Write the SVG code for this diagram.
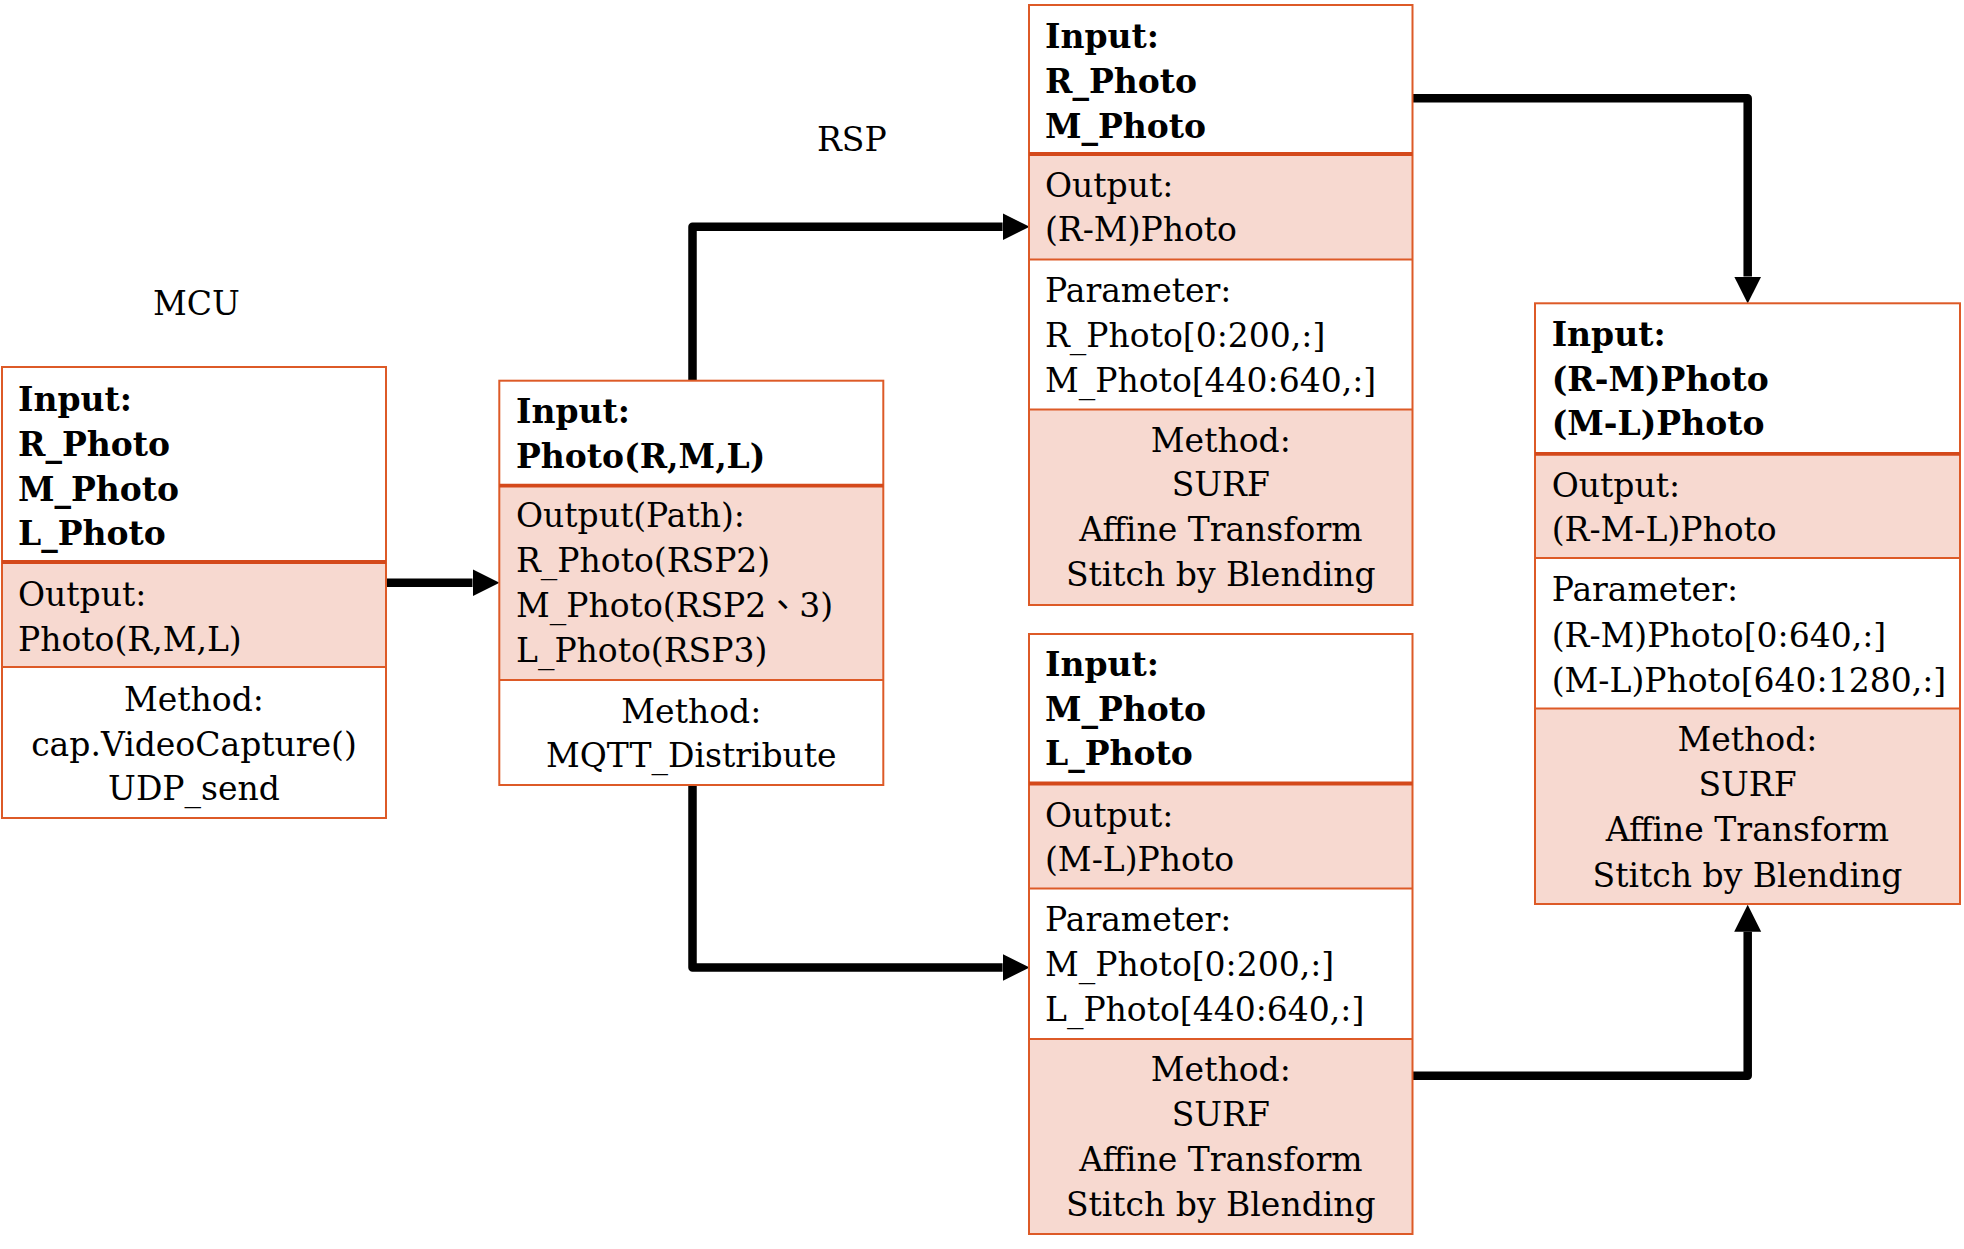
<svg xmlns="http://www.w3.org/2000/svg" width="1964" height="1249" viewBox="0 0 1964 1249">
<defs>
<style>
text{font-family:"DejaVu Serif","Noto Sans CJK TC",serif;font-size:33px;fill:#000}
.b{font-weight:bold}
.c{text-anchor:middle}
.pink{fill:#F7D9D0;stroke:none}
.frame{fill:none;stroke:#DD5A27;stroke-width:2}
.thin{stroke:#DD5A27;stroke-width:2}
.thick{stroke:#D4491B;stroke-width:3.8}
.conn{fill:none;stroke:#000;stroke-width:8.5;stroke-linejoin:round;marker-end:url(#ah)}
</style>
<marker id="ah" markerUnits="userSpaceOnUse" markerWidth="30" markerHeight="30" refX="0" refY="13.5" orient="auto" viewBox="0 0 30 30">
<path d="M0,0 L27,13.5 L0,27 Z" fill="#000"/>
</marker>
</defs>
<rect width="1964" height="1249" fill="#fff"/>

<text x="153" y="315">MCU</text>
<text x="817" y="151">RSP</text>

<g id="connectors">
<path class="conn" d="M386,582.8 H472.5"/>
<path class="conn" d="M692.5,380 V226.8 H1002.6"/>
<path class="conn" d="M692.5,785 V967.5 H1002.6"/>
<path class="conn" d="M1412,98.3 H1747.7 V276.6"/>
<path class="conn" d="M1412,1075.8 H1747.7 V931.7"/>
</g>

<g id="mcu">
<rect x="2" y="367" width="384" height="451" fill="#fff"/>
<rect class="pink" x="2" y="562" width="384" height="105"/>
<rect class="frame" x="2" y="367" width="384" height="451"/>
<line class="thick" x1="2" y1="562" x2="386" y2="562"/>
<line class="thin" x1="2" y1="667" x2="386" y2="667"/>
<text class="b" x="18" y="411">Input:</text>
<text class="b" x="18" y="456">R_Photo</text>
<text class="b" x="18" y="501">M_Photo</text>
<text class="b" x="18" y="545">L_Photo</text>
<text x="18" y="606">Output:</text>
<text x="18" y="651">Photo(R,M,L)</text>
<text class="c" x="194" y="711">Method:</text>
<text class="c" x="194" y="756">cap.VideoCapture()</text>
<text class="c" x="194" y="800">UDP_send</text>
</g>

<g id="distribute">
<rect x="499.3" y="380.7" width="384" height="404.3" fill="#fff"/>
<rect class="pink" x="499.3" y="485.7" width="384" height="194.3"/>
<rect class="frame" x="499.3" y="380.7" width="384" height="404.3"/>
<line class="thick" x1="499.3" y1="485.7" x2="883.3" y2="485.7"/>
<line class="thin" x1="499.3" y1="680" x2="883.3" y2="680"/>
<text class="b" x="516" y="423">Input:</text>
<text class="b" x="516" y="468">Photo(R,M,L)</text>
<text x="516" y="527">Output(Path):</text>
<text x="516" y="572">R_Photo(RSP2)</text>
<text x="516" y="617">M_Photo(RSP2、3)</text>
<text x="516" y="662">L_Photo(RSP3)</text>
<text class="c" x="691.3" y="723">Method:</text>
<text class="c" x="691.3" y="767">MQTT_Distribute</text>
</g>

<g id="stitch-rm">
<rect x="1029" y="5" width="383.5" height="600" fill="#fff"/>
<rect class="pink" x="1029" y="154" width="383.5" height="105.5"/>
<rect class="pink" x="1029" y="409.5" width="383.5" height="195.5"/>
<rect class="frame" x="1029" y="5" width="383.5" height="600"/>
<line class="thick" x1="1029" y1="154" x2="1412.5" y2="154"/>
<line class="thin" x1="1029" y1="259.5" x2="1412.5" y2="259.5"/>
<line class="thin" x1="1029" y1="409.5" x2="1412.5" y2="409.5"/>
<text class="b" x="1045" y="48">Input:</text>
<text class="b" x="1045" y="93">R_Photo</text>
<text class="b" x="1045" y="138">M_Photo</text>
<text x="1045" y="197">Output:</text>
<text x="1045" y="241">(R-M)Photo</text>
<text x="1045" y="302">Parameter:</text>
<text x="1045" y="347">R_Photo[0:200,:]</text>
<text x="1045" y="392">M_Photo[440:640,:]</text>
<text class="c" x="1220.8" y="452">Method:</text>
<text class="c" x="1220.8" y="496">SURF</text>
<text class="c" x="1220.8" y="541">Affine Transform</text>
<text class="c" x="1220.8" y="586">Stitch by Blending</text>
</g>

<g id="stitch-ml">
<rect x="1029" y="634" width="383.5" height="600" fill="#fff"/>
<rect class="pink" x="1029" y="783.5" width="383.5" height="105"/>
<rect class="pink" x="1029" y="1039" width="383.5" height="195"/>
<rect class="frame" x="1029" y="634" width="383.5" height="600"/>
<line class="thick" x1="1029" y1="783.5" x2="1412.5" y2="783.5"/>
<line class="thin" x1="1029" y1="888.5" x2="1412.5" y2="888.5"/>
<line class="thin" x1="1029" y1="1039" x2="1412.5" y2="1039"/>
<text class="b" x="1045" y="676">Input:</text>
<text class="b" x="1045" y="721">M_Photo</text>
<text class="b" x="1045" y="765">L_Photo</text>
<text x="1045" y="827">Output:</text>
<text x="1045" y="871">(M-L)Photo</text>
<text x="1045" y="931">Parameter:</text>
<text x="1045" y="976">M_Photo[0:200,:]</text>
<text x="1045" y="1021">L_Photo[440:640,:]</text>
<text class="c" x="1220.8" y="1081">Method:</text>
<text class="c" x="1220.8" y="1126">SURF</text>
<text class="c" x="1220.8" y="1171">Affine Transform</text>
<text class="c" x="1220.8" y="1216">Stitch by Blending</text>
</g>

<g id="stitch-rml">
<rect x="1535" y="303.3" width="425" height="600.7" fill="#fff"/>
<rect class="pink" x="1535" y="453.9" width="425" height="104.1"/>
<rect class="pink" x="1535" y="708.5" width="425" height="195.5"/>
<rect class="frame" x="1535" y="303.3" width="425" height="600.7"/>
<line class="thick" x1="1535" y1="453.9" x2="1960" y2="453.9"/>
<line class="thin" x1="1535" y1="558" x2="1960" y2="558"/>
<line class="thin" x1="1535" y1="708.5" x2="1960" y2="708.5"/>
<text class="b" x="1551.7" y="346">Input:</text>
<text class="b" x="1551.7" y="391">(R-M)Photo</text>
<text class="b" x="1551.7" y="435">(M-L)Photo</text>
<text x="1551.7" y="497">Output:</text>
<text x="1551.7" y="541">(R-M-L)Photo</text>
<text x="1551.7" y="601">Parameter:</text>
<text x="1551.7" y="647">(R-M)Photo[0:640,:]</text>
<text x="1551.7" y="692">(M-L)Photo[640:1280,:]</text>
<text class="c" x="1747.5" y="751">Method:</text>
<text class="c" x="1747.5" y="796">SURF</text>
<text class="c" x="1747.5" y="841">Affine Transform</text>
<text class="c" x="1747.5" y="887">Stitch by Blending</text>
</g>
</svg>
